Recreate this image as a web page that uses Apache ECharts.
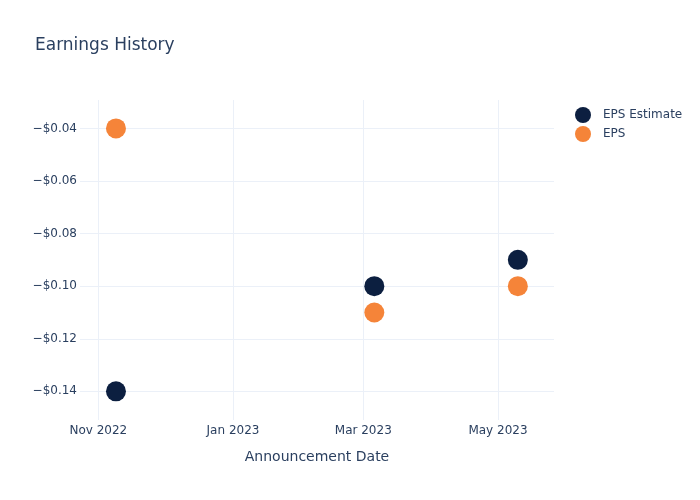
<!DOCTYPE html>
<html>
<head>
<meta charset="utf-8">
<script src="https://cdn.jsdelivr.net/npm/echarts@6/dist/echarts.min.js"></script>
<style>
html,body{margin:0;padding:0;background:#fff;}
#chart{width:700px;height:500px;}
</style>
</head>
<body>
<div id="chart"></div>
<script>
const dates = ['2022-11-09', '2023-03-06', '2023-05-10'];
const epsEstimate = [-0.14, -0.10, -0.09];
const eps = [-0.04, -0.11, -0.10];
const seriesNames = ['EPS Estimate', 'EPS'];
const monthNames = ['Jan','Feb','Mar','Apr','May','Jun','Jul','Aug','Sep','Oct','Nov','Dec'];

const font = 'DejaVu Sans, Verdana, sans-serif';
const textColor = '#2a3f5f';
const gridColor = '#ebf0f8';

const toPairs = (vals) => dates.map((d, i) => [d + 'T00:00:00Z', vals[i]]);

const chart = echarts.init(document.getElementById('chart'), null, {renderer: 'canvas'});
chart.setOption({
  useUTC: true,
  animation: false,
  backgroundColor: '#fff',
  textStyle: {fontFamily: font},
  title: {
    text: 'Earnings History',
    left: 30,
    top: 32,
    textStyle: {fontFamily: font, fontSize: 17, fontWeight: 'normal', color: textColor}
  },
  legend: {
    orient: 'vertical',
    left: 570,
    top: 102,
    itemWidth: 16,
    itemHeight: 16,
    itemGap: 3,
    icon: 'circle',
    data: seriesNames,
    textStyle: {fontFamily: font, fontSize: 12, color: textColor, padding: [0, 0, 0, 7]}
  },
  grid: {left: 80, right: 146, top: 100, bottom: 80, containLabel: false},
  xAxis: {
    type: 'time',
    min: '2022-10-23T17:00:00Z',
    max: '2023-05-26T09:00:00Z',
    splitNumber: 3,
    name: 'Announcement Date',
    nameLocation: 'middle',
    nameGap: 30,
    nameTextStyle: {fontFamily: font, fontSize: 14, color: textColor},
    axisLine: {show: false},
    axisTick: {show: false},
    axisLabel: {
      fontFamily: font, fontSize: 12, color: textColor, margin: 5,
      showMinLabel: false, showMaxLabel: false,
      hideOverlap: false,
      formatter: (v) => { const d = new Date(v); return monthNames[d.getUTCMonth()] + ' ' + d.getUTCFullYear(); },
      rich: {}
    },
    splitLine: {show: true, showMinLine: false, showMaxLine: false, lineStyle: {color: gridColor, width: 1}}
  },
  yAxis: {
    type: 'value',
    min: -0.1509,
    max: -0.0292,
    splitNumber: 5,
    axisLine: {show: false},
    axisTick: {show: false},
    axisLabel: {
      fontFamily: font, fontSize: 12, color: textColor, margin: 3,
      showMinLabel: false, showMaxLabel: false,
      formatter: (v) => (v < 0 ? '\u2212' : '') + '$' + Math.abs(v).toFixed(2)
    },
    splitLine: {show: true, showMinLine: false, showMaxLine: false, lineStyle: {color: gridColor, width: 1}}
  },
  series: [
    {
      name: seriesNames[0], type: 'scatter', symbol: 'circle', symbolSize: 20,
      itemStyle: {color: '#0c1f40', opacity: 1},
      data: toPairs(epsEstimate)
    },
    {
      name: seriesNames[1], type: 'scatter', symbol: 'circle', symbolSize: 20,
      itemStyle: {color: '#f58439', opacity: 1},
      data: toPairs(eps)
    }
  ]
});
</script>
</body>
</html>
